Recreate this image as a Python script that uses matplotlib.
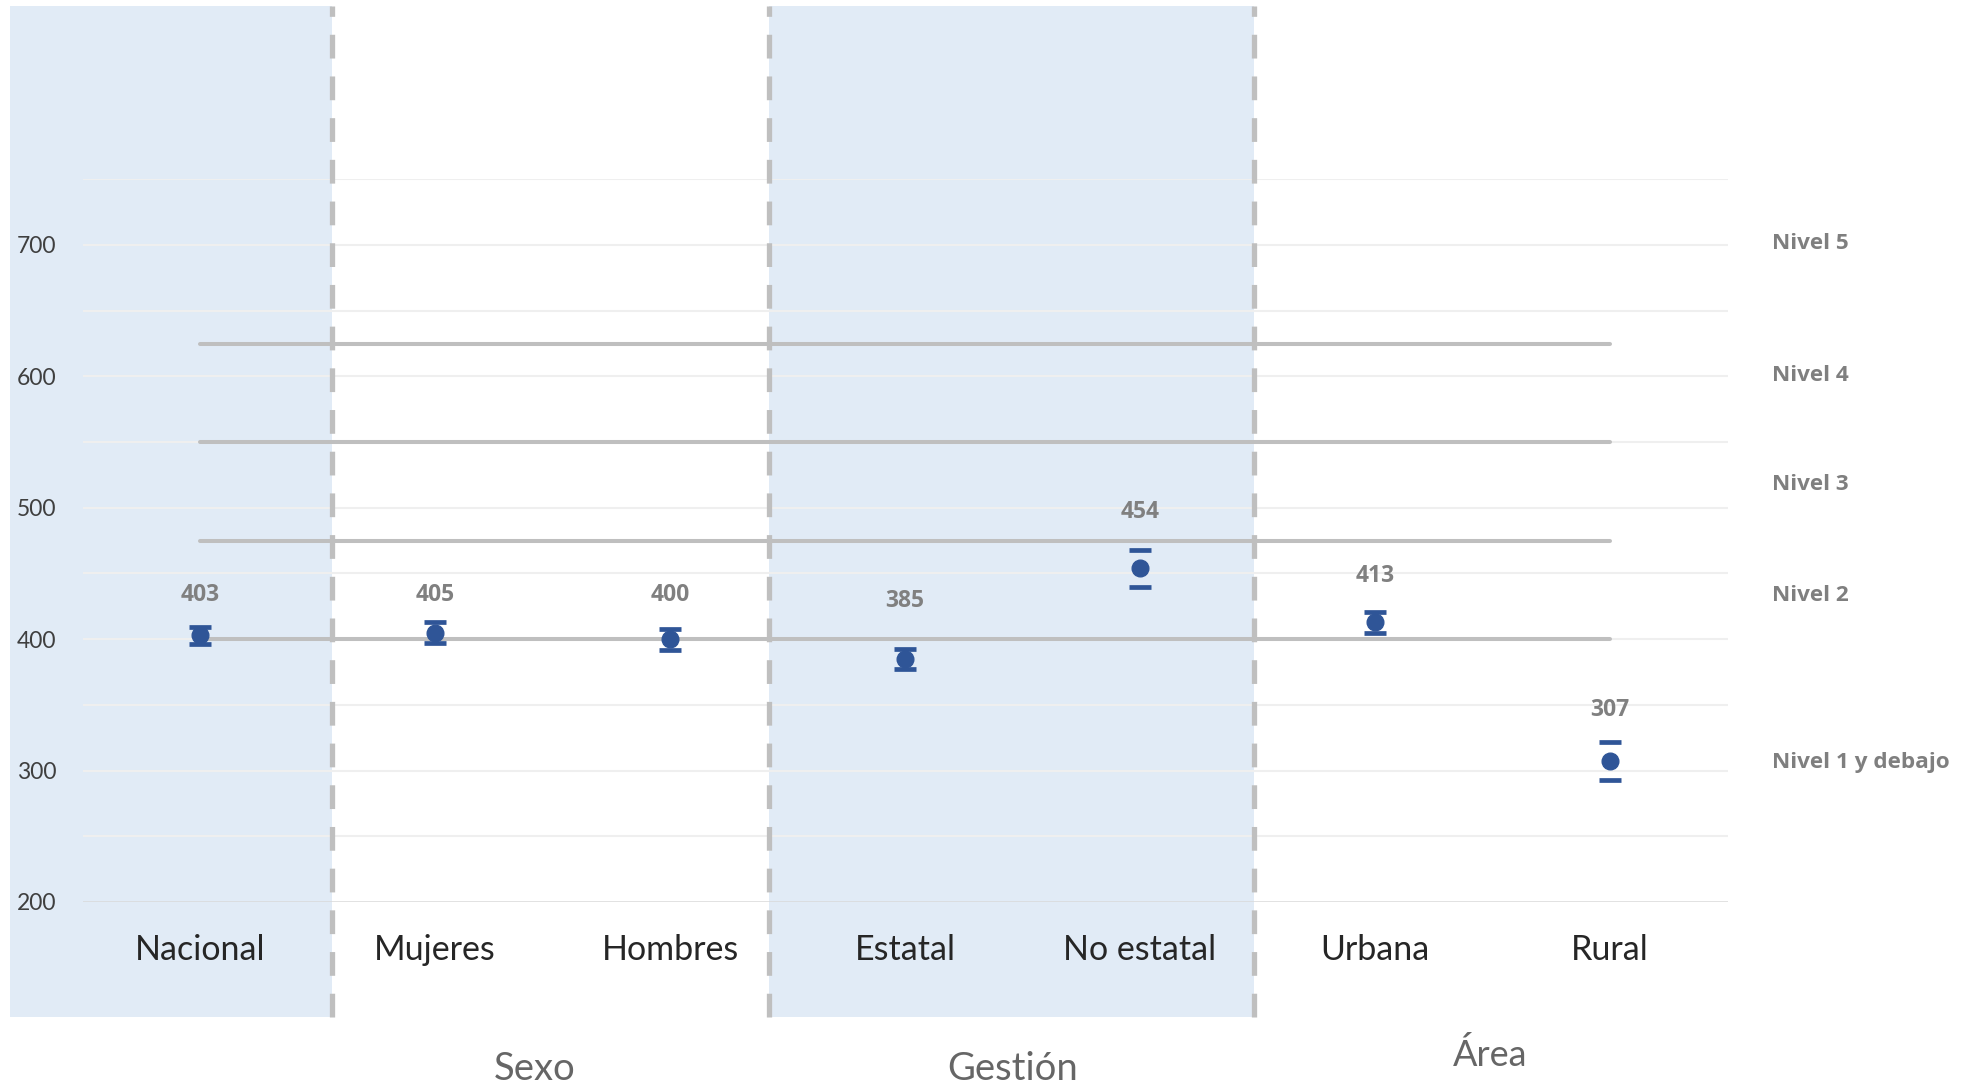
import matplotlib
matplotlib.use('Agg')
import matplotlib.pyplot as plt
from matplotlib.patches import Rectangle

plt.rcParams['font.family'] = ['Lato', 'DejaVu Sans']
bold_family = ['Open Sans', 'DejaVu Sans']

# data
categories = ['Nacional', 'Mujeres', 'Hombres', 'Estatal', 'No estatal', 'Urbana', 'Rural']
scores = [403, 405, 400, 385, 454, 413, 307]
errors = [6.5, 8, 8, 7.5, 14, 8, 14.5]
label_offset = [31, 29, 34, 44, 43, 35, 39]

level_cuts = [400, 475, 550, 625]
level_names = ['Nivel 5', 'Nivel 4', 'Nivel 3', 'Nivel 2', 'Nivel 1 y debajo']
level_label_y = [701, 601, 518, 433, 306]

groups = ['Sexo', 'Gestión', 'Área']
group_x = [1.925, 3.96, 5.99]
group_y = [64.5, 64.5, 75.4]

y_ticks = [200, 300, 400, 500, 600, 700]

fig = plt.figure(figsize=(19.62, 10.86), dpi=100)
ax = fig.add_axes([0.04205, 0.16943, 0.83843, 0.66547])
ax.set_xlim(0, 7)
ax.set_ylim(200, 750)
for s in ax.spines.values():
    s.set_visible(False)

# shaded bands (Nacional / Gestion)
band_col = '#E1EBF6'
ax.add_patch(Rectangle((-0.309, 112.8), 1.370, 768.9, facecolor=band_col,
                       edgecolor='none', clip_on=False, zorder=0))
ax.add_patch(Rectangle((2.92, 112.8), 2.065, 768.9, facecolor=band_col,
                       edgecolor='none', clip_on=False, zorder=0))

# grid
for g in range(250, 751, 50):
    ax.plot([0, 7], [g, g], color='#EFEFEF', lw=1.5, zorder=1)
ax.plot([0, 7], [200, 200], color='#D9D9D9', lw=1.8, zorder=1)

# separators
for xs in [1.061, 2.92, 4.985]:
    ax.plot([xs, xs], [112.8, 881.7], color='#BFBFBF', lw=3.8,
            ls=(0, (4.5, 3.4)), clip_on=False, zorder=2)

# level thresholds
xc = [i + 0.5 for i in range(len(categories))]
for c in level_cuts:
    ax.plot([xc[0], xc[-1]], [c, c], color='#BFBFBF', lw=2.9,
            solid_capstyle='round', zorder=2)

# points with error caps
ax.errorbar(xc, scores, yerr=errors, fmt='o', color='#2F5597', ms=12,
            elinewidth=0, capsize=7.9, capthick=3.4, zorder=4)

for x, v, off in zip(xc, scores, label_offset):
    ax.text(x, v + off, str(v), ha='center', va='center', fontsize=16.5,
            fontweight='bold', family=bold_family, color='#808080', zorder=5)

# level names on the right
for name, yy in zip(level_names, level_label_y):
    ax.text(7.19, yy, name, ha='left', va='center', fontsize=16.2,
            fontweight='bold', family=bold_family, color='#7F7F7F', clip_on=False)

# category labels
for x, c in zip(xc, categories):
    ax.text(x, 155.9, c, ha='center', va='baseline', fontsize=24.5,
            color='#262626', clip_on=False)

# group labels
for x, y, g, fs in zip(group_x, group_y, groups, [27.5, 27.5, 26]):
    ax.text(x, y, g, ha='center', va='baseline', fontsize=fs,
            color='#666666', clip_on=False)

ax.set_xticks([])
ax.set_yticks(y_ticks)
ax.set_yticklabels([str(t) for t in y_ticks])
ax.tick_params(axis='y', length=0, pad=18.6, labelsize=16.5, labelcolor='#3F3F3F')

fig.savefig('out.png', dpi=100)
